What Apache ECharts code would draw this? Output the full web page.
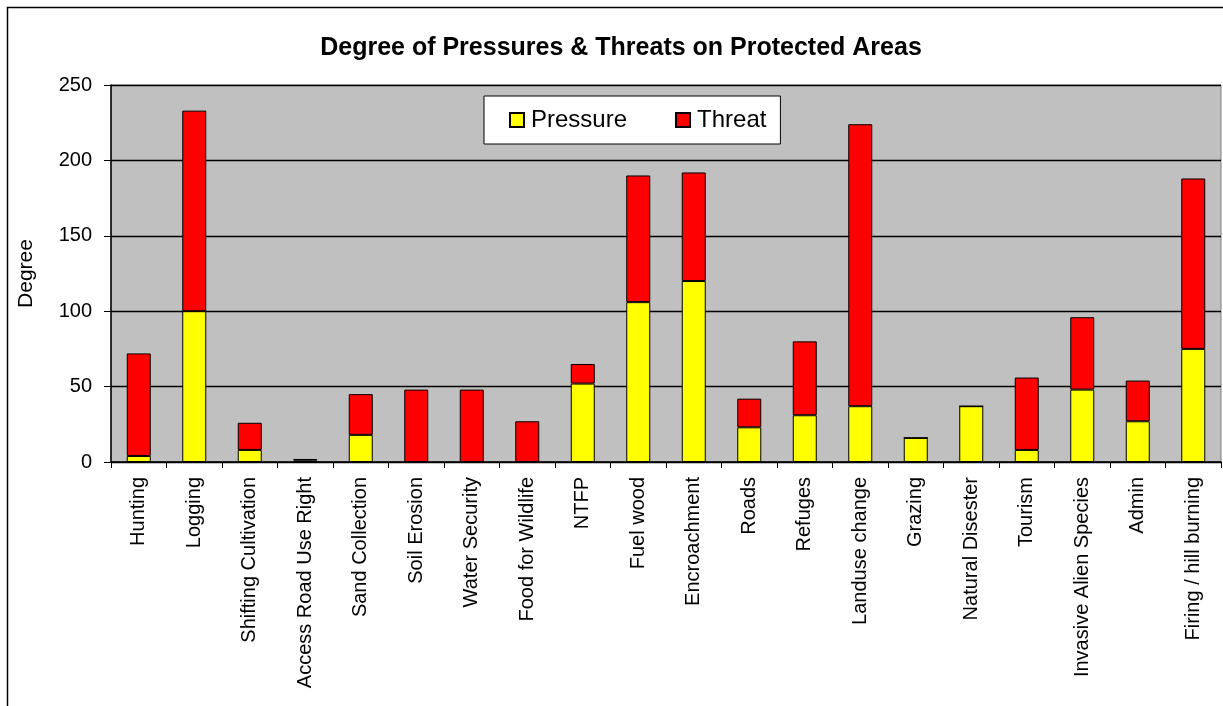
<!DOCTYPE html>
<html>
<head>
<meta charset="utf-8">
<script src="https://cdn.jsdelivr.net/npm/echarts@6/dist/echarts.min.js"></script>
<style>
html,body{margin:0;padding:0;background:#fff;}
#chart{width:1223px;height:706px;}
</style>
</head>
<body>
<div id="chart"></div>
<script>
const categories = ["Hunting","Logging","Shifting Cultivation","Access Road Use Right","Sand Collection","Soil Erosion","Water Security","Food for Wildlife","NTFP","Fuel wood","Encroachment","Roads","Refuges","Landuse change","Grazing","Natural Disester","Tourism","Invasive Alien Species","Admin","Firing / hill burning"];
const pressure = [4,100,8,1,18,0,0,0,52,106,120,23,31,37,16,37,8,48,27,75];
const threat = [68,133,18,1,27,48,48,27,13,84,72,19,49,187,0,0,48,48,27,113];
const yTicks = [0,50,100,150,200,250];

const FONT = '"Liberation Sans", Arial, sans-serif';
const chart = echarts.init(document.getElementById('chart'), null, {renderer:'canvas'});
chart.setOption({
  animation:false,
  backgroundColor:'#ffffff',
  textStyle:{fontFamily:FONT,color:'#000'},
  title:{
    text:'Degree of Pressures & Threats on Protected Areas',
    left:616, top:31, textAlign:'center',
    textStyle:{fontFamily:FONT,fontWeight:'bold',fontSize:25,color:'#000'}
  },
  legend:{
    left:484, top:96,
    backgroundColor:'#fff', borderColor:'#000', borderWidth:1,
    padding:[12,14,12,25],
    icon:'rect',
    itemWidth:14, itemHeight:14, itemGap:48,
    textStyle:{fontFamily:FONT,fontSize:24,color:'#000',padding:[0,0,0,2]},
    data:['Pressure','Threat']
  },
  graphic:[{
    type:'rect', left:5, top:5, silent:true,
    shape:{width:1240,height:720},
    style:{fill:'none',stroke:'#000',lineWidth:1.5}
  }],
  grid:{
    left:111, top:85, right:2, bottom:244,
    show:true, backgroundColor:'#C0C0C0', borderColor:'#808080', borderWidth:1
  },
  xAxis:{
    type:'category', data:categories,
    axisLine:{show:true,lineStyle:{color:'#000',width:1.5}},
    axisTick:{show:true,alignWithLabel:false,length:6,lineStyle:{color:'#000'}},
    axisLabel:{rotate:90,fontSize:20,color:'#000',fontFamily:FONT,margin:15,interval:0}
  },
  yAxis:{
    type:'value', min:0, max:250, interval:50,
    name:'Degree', nameLocation:'middle', nameRotate:90, nameGap:74,
    nameTextStyle:{fontFamily:FONT,fontSize:21,color:'#000'},
    axisLine:{show:true,lineStyle:{color:'#000',width:1.5}},
    axisTick:{show:true,length:7,lineStyle:{color:'#000'}},
    axisLabel:{fontSize:20,color:'#000',fontFamily:FONT,margin:19,
      formatter:function(v){return yTicks.indexOf(v)>=0?String(v):'';}},
    splitLine:{show:true,lineStyle:{color:'#000',width:1.3}}
  },
  series:[
    {name:'Pressure',type:'bar',stack:'s',data:pressure,barWidth:24,
     itemStyle:{color:'#FFFF00',borderColor:'#000',borderWidth:1}},
    {name:'Threat',type:'bar',stack:'s',data:threat,barWidth:24,
     itemStyle:{color:'#FF0000',borderColor:'#000',borderWidth:1}}
  ]
});
</script>
</body>
</html>
